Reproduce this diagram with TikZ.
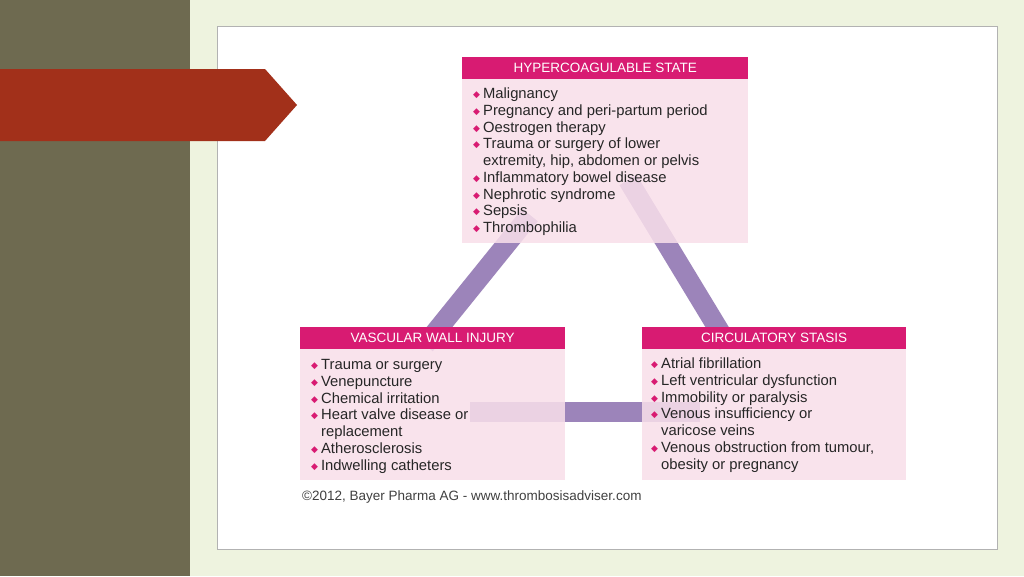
\documentclass[tikz,border=0pt]{standalone}
\usepackage{fontspec}
\setmainfont{Liberation Sans}
\newfontfamily\symf{DejaVu Sans}
\definecolor{olive}{HTML}{6E6A50}
\definecolor{arrowred}{HTML}{A2301A}
\definecolor{mag}{HTML}{D81B72}
\definecolor{pinkbody}{HTML}{F9DFEA}
\definecolor{band}{HTML}{9C84BA}
\definecolor{bgr}{HTML}{EEF3DF}
\newcommand{\bul}{\raisebox{1pt}{\symf\fontsize{9}{9}\selectfont\textcolor{mag}{◆}}}
\tikzset{
  hdr/.style={fill=mag,text=white,font=\fontsize{13.5}{13.5}\selectfont,inner sep=0pt},
  body/.style={fill=pinkbody,fill opacity=0.86},
  lst/.style={anchor=north west,inner sep=0pt,font=\fontsize{14.8}{16.7}\selectfont,align=left,text=black!85},
  bandl/.style={draw=band,line width=20pt}
}
\begin{document}
\begin{tikzpicture}[x=1pt,y=-1pt]
\useasboundingbox (0,0) rectangle (1024,576);
\fill[bgr] (0,0) rectangle (1024,576);
\fill[olive] (0,0) rectangle (190,576);
\draw[fill=white,draw=black!30] (217,26) rectangle (997,549);
\fill[arrowred] (0,69) -- (265,69) -- (297,105) -- (265,141) -- (0,141) -- cycle;
% bands
\coordinate (t1) at (530,215);
\coordinate (l1) at (425,345);
\coordinate (t2) at (628,180);
\coordinate (r1) at (728,345);
\coordinate (l2) at (470,412);
\coordinate (r2) at (700,412);
\draw[bandl] (t1) -- (l1);
\draw[bandl] (t2) -- (r1);
\draw[bandl] (l2) -- (r2);
% top box
\fill[body] (462,79) rectangle (748,243);
\node[hdr,minimum width=286pt,minimum height=22pt,anchor=north west] (th) at (462,57) {HYPERCOAGULABLE STATE};
\node[lst] (tl) at (473,87) {\begin{tabular}{@{}l@{\hspace{3pt}}l@{}}
\bul & Malignancy\\
\bul & Pregnancy and peri-partum period\\
\bul & Oestrogen therapy\\
\bul & Trauma or surgery of lower\\
 & extremity, hip, abdomen or pelvis\\
\bul & Inflammatory bowel disease\\
\bul & Nephrotic syndrome\\
\bul & Sepsis\\
\bul & Thrombophilia
\end{tabular}};
% left box
\fill[body] (300,349) rectangle (565,480);
\node[hdr,minimum width=265pt,minimum height=22pt,anchor=north west] (lh) at (300,327) {VASCULAR WALL INJURY};
\node[lst] (ll) at (311,358) {\begin{tabular}{@{}l@{\hspace{3pt}}l@{}}
\bul & Trauma or surgery\\
\bul & Venepuncture\\
\bul & Chemical irritation\\
\bul & Heart valve disease or\\
 & replacement\\
\bul & Atherosclerosis\\
\bul & Indwelling catheters
\end{tabular}};
% right box
\fill[body] (642,349) rectangle (906,480);
\node[hdr,minimum width=264pt,minimum height=22pt,anchor=north west] (rh) at (642,327) {CIRCULATORY STASIS};
\node[lst] (rl) at (651,357) {\begin{tabular}{@{}l@{\hspace{3pt}}l@{}}
\bul & Atrial fibrillation\\
\bul & Left ventricular dysfunction\\
\bul & Immobility or paralysis\\
\bul & Venous insufficiency or\\
 & varicose veins\\
\bul & Venous obstruction from tumour,\\
 & obesity or pregnancy
\end{tabular}};
\node[anchor=west,inner sep=0pt,font=\fontsize{13.5}{14}\selectfont,text=black!75] (cp) at (302,497) {©2012, Bayer Pharma AG - www.thrombosisadviser.com};
\end{tikzpicture}
\end{document}
